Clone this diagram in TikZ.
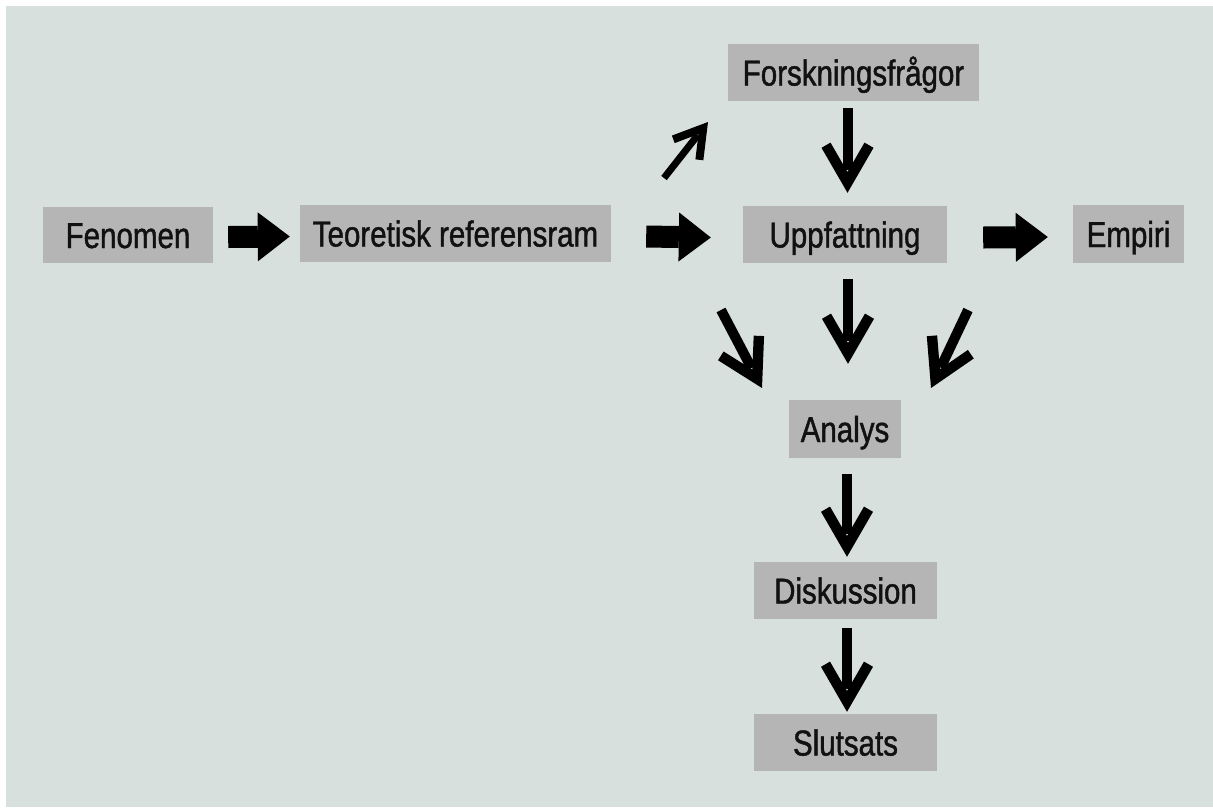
\documentclass[tikz,border=0pt]{standalone}
\usepackage{fontspec}
\setmainfont{Liberation Sans}[FakeStretch=0.82,FakeBold=1.2]
\usetikzlibrary{arrows.meta}
\definecolor{bgcol}{HTML}{D7E0DD}
\definecolor{boxcol}{HTML}{B5B5B5}
\definecolor{txtcol}{HTML}{111111}
\pgfdeclarearrow{
  name = Chev,
  defaults = {length = 45pt, width = 52pt},
  parameters = {\the\pgfarrowlength,\the\pgfarrowwidth},
  setup code = {
    \pgfarrowssettipend{0pt}
    \pgfarrowssetlineend{-.5\pgfarrowlength}
    \pgfarrowssetbackend{-\pgfarrowlength}
    \pgfarrowssetvisualbackend{-.5\pgfarrowlength}
    \pgfarrowssavethe\pgfarrowlength
    \pgfarrowssavethe\pgfarrowwidth
  },
  drawing code = {
    \pgfmathsetmacro\chL{\pgfarrowlength}
    \pgfmathsetmacro\chH{0.5*\pgfarrowwidth}
    \pgfmathsetmacro\chT{0.2*\pgfarrowwidth}
    \pgfmathsetmacro\chS{sqrt(\chL*\chL+\chH*\chH)}
    \pgfmathsetmacro\chIx{-\chL-\chT*\chH/\chS}
    \pgfmathsetmacro\chIy{\chH-\chT*\chL/\chS}
    \pgfmathsetmacro\chN{\chT*\chS/\chH}
    \pgfpathmoveto{\pgfpointorigin}
    \pgfpathlineto{\pgfpoint{-\chL pt}{\chH pt}}
    \pgfpathlineto{\pgfpoint{\chIx pt}{\chIy pt}}
    \pgfpathlineto{\pgfpoint{-\chN pt}{0pt}}
    \pgfpathlineto{\pgfpoint{\chIx pt}{-\chIy pt}}
    \pgfpathlineto{\pgfpoint{-\chL pt}{-\chH pt}}
    \pgfpathclose
    \pgfusepathqfill
  }
}
\begin{document}
\begin{tikzpicture}[x=1pt,y=-1pt,
  box/.style={fill=boxcol, inner sep=0pt, text height=26pt, text depth=0pt,
    font=\fontsize{36}{40}\selectfont, text=txtcol},
  fat/.style={line width=22pt, -{Triangle[length=32pt,width=49pt,line width=0pt]}},
  chev/.style={line width=10pt, -{Chev[length=45pt,width=52pt]}},
  smallchev/.style={line width=7pt, -{Chev[length=33pt,width=40pt]}},
]
\useasboundingbox (0,0) rectangle (1213,807);
\fill[white] (0,0) rectangle (1213,807);
\fill[bgcol] (6,6) rectangle (1213,807);

\node[box, minimum width=170pt, minimum height=56pt] (fen) at (128,235) {Fenomen};
\node[box, minimum width=311pt, minimum height=57pt] (teo) at (455.5,233.5) {Teoretisk referensram};
\node[box, minimum width=251pt, minimum height=57pt] (fors) at (853.5,72.5) {Forskningsfrågor};
\node[box, minimum width=204pt, minimum height=57pt] (upp) at (845,234.5) {Uppfattning};
\node[box, minimum width=111pt, minimum height=58pt] (emp) at (1128.5,234) {Empiri};
\node[box, minimum width=112pt, minimum height=58pt] (ana) at (845,429) {Analys};
\node[box, minimum width=183pt, minimum height=57pt] (disk) at (845.5,590.5) {Diskussion};
\node[box, minimum width=183pt, minimum height=57pt] (slut) at (845.5,742.5) {Slutsats};

\draw[fat] ([xshift=15pt,yshift=-2pt]fen.east) -- ([xshift=-10pt,yshift=-3pt]teo.west);
\draw[fat] ([xshift=35pt,yshift=-3pt]teo.east) -- ([xshift=-32pt,yshift=-3pt]upp.west);
\draw[fat] ([xshift=36pt,yshift=-3pt]upp.east) -- ([xshift=-25pt,yshift=-3pt]emp.west);

\draw[chev] ([xshift=-6pt,yshift=-7pt]fors.south) -- ([xshift=2.5pt,yshift=13pt]upp.north);
\draw[chev] ([xshift=3pt,yshift=-16pt]upp.south) -- ([xshift=3pt,yshift=36pt]ana.north);
\draw[chev] ([xshift=2pt,yshift=-16pt]ana.south) -- ([xshift=1.5pt,yshift=5pt]disk.north);
\draw[chev] ([xshift=1.5pt,yshift=-9pt]disk.south) -- ([xshift=1.5pt,yshift=2pt]slut.north);

\coordinate (d1s) at (721,310);
\coordinate (d1e) at (762,388);
\coordinate (d2s) at (968,310);
\coordinate (d2e) at (931,388);
\coordinate (d3s) at (664,178);
\coordinate (d3e) at (708,122);
\draw[chev] (d1s) -- (d1e);
\draw[chev] (d2s) -- (d2e);
\draw[smallchev] (d3s) -- (d3e);
\end{tikzpicture}
\end{document}
